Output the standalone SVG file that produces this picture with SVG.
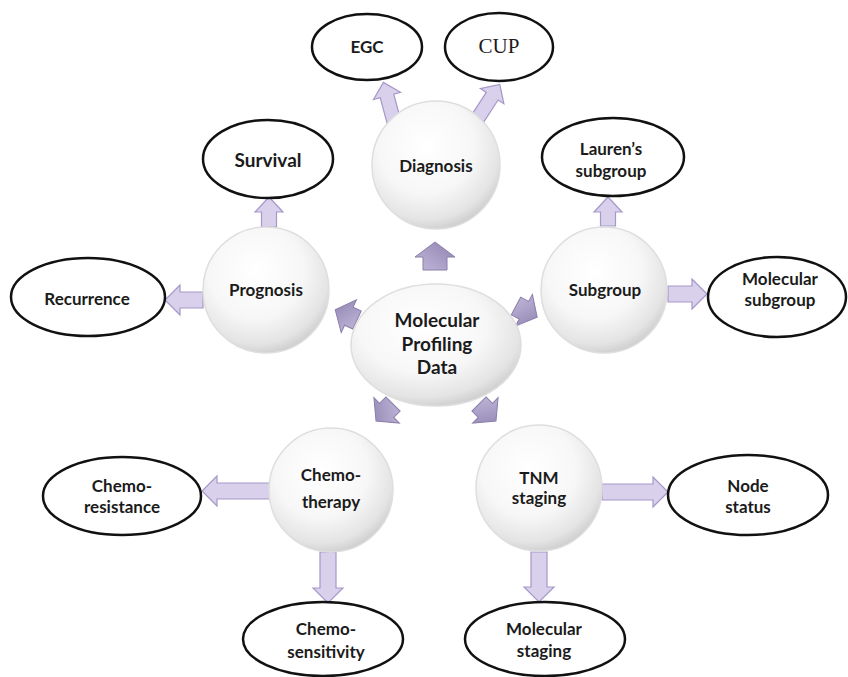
<svg xmlns="http://www.w3.org/2000/svg" width="848" height="677" viewBox="0 0 848 677">
<defs>
<radialGradient id="sphere" cx="0.42" cy="0.35" r="0.68">
<stop offset="0" stop-color="#ffffff"/>
<stop offset="0.55" stop-color="#f7f7f7"/>
<stop offset="0.85" stop-color="#e4e4e4"/>
<stop offset="1" stop-color="#cbcbcb"/>
</radialGradient>
<linearGradient id="small" x1="0" y1="0" x2="1" y2="1">
<stop offset="0" stop-color="#c2b8da"/>
<stop offset="1" stop-color="#8f83b0"/>
</linearGradient>
<style>
.sph{fill:url(#sphere);stroke:#dedede;stroke-width:1.5}
.ell{fill:#ffffff;stroke:#111111;stroke-width:2.5}
.t{font-family:Lato,"Open Sans","Liberation Sans",sans-serif;font-weight:bold;fill:#1b1b1b;text-anchor:middle}
.s17{font-size:17px}
.s19{font-size:19px}
.serif{font-family:"Liberation Serif","DejaVu Serif",serif;font-weight:normal;font-size:21px;fill:#1b1b1b;text-anchor:middle}
.big{fill:#d9d0ec;stroke:#a598c8;stroke-width:1.2}
.sm{fill:url(#small);stroke:#8a7eaa;stroke-width:1}
</style>
</defs>
<rect x="0" y="0" width="848" height="677" fill="#ffffff"/>

<g id="connectors">
<path class="big" transform="translate(394,122) rotate(-105)" d="M0,-7 L27,-7 L27,-14 L41,0 L27,14 L27,7 L0,7 Z"/>
<path class="big" transform="translate(478,118) rotate(-57)" d="M0,-7 L26,-7 L26,-14 L40,0 L26,14 L26,7 L0,7 Z"/>
<path class="big" transform="translate(269,227) rotate(-90)" d="M0,-7.5 L15,-7.5 L15,-14 L30,0 L15,14 L15,7.5 L0,7.5 Z"/>
<path class="big" transform="translate(608,226) rotate(-90)" d="M0,-7.5 L14,-7.5 L14,-14 L29,0 L14,14 L14,7.5 L0,7.5 Z"/>
<path class="big" transform="translate(203,300) rotate(180)" d="M0,-8 L23,-8 L23,-15 L38,0 L23,15 L23,8 L0,8 Z"/>
<path class="big" transform="translate(668,294)" d="M0,-8 L24,-8 L24,-15 L39,0 L24,15 L24,8 L0,8 Z"/>
<path class="big" transform="translate(270,491) rotate(180)" d="M0,-8 L53,-8 L53,-15 L68,0 L53,15 L53,8 L0,8 Z"/>
<path class="big" transform="translate(602,492)" d="M0,-8 L51,-8 L51,-15 L66,0 L51,15 L51,8 L0,8 Z"/>
<path class="big" transform="translate(328,552) rotate(90)" d="M0,-8 L36,-8 L36,-15 L51,0 L36,15 L36,8 L0,8 Z"/>
<path class="big" transform="translate(539,552) rotate(90)" d="M0,-8 L35,-8 L35,-15 L50,0 L35,15 L35,8 L0,8 Z"/>
<path class="sm" transform="translate(435,270) rotate(-90)" d="M0,-12 L13,-12 L13,-20 L28,0 L13,20 L13,12 L0,12 Z"/>
<path class="sm" transform="translate(357,320) rotate(205)" d="M0,-10 L9,-10 L9,-18 L24,0 L9,18 L9,10 L0,10 Z"/>
<path class="sm" transform="translate(516,306) rotate(28)" d="M0,-10 L9,-10 L9,-18 L24,0 L9,18 L9,10 L0,10 Z"/>
<path class="sm" transform="translate(393,404) rotate(135)" d="M0,-10 L9,-10 L9,-18 L24,0 L9,18 L9,10 L0,10 Z"/>
<path class="sm" transform="translate(479,404) rotate(45)" d="M0,-10 L9,-10 L9,-18 L24,0 L9,18 L9,10 L0,10 Z"/>
</g>

<g id="center">
<ellipse class="sph" cx="436" cy="345" rx="85" ry="61"/>
<text class="t s19" x="437" y="327">Molecular</text>
<text class="t s19" x="437" y="351">Profiling</text>
<text class="t s19" x="437" y="374">Data</text>
</g>

<g id="diagnosis">
<circle class="sph" cx="436" cy="165" r="64"/>
<text class="t s17" x="436" y="172">Diagnosis</text>
</g>
<g id="prognosis">
<circle class="sph" cx="266" cy="290" r="63"/>
<text class="t s17" x="266" y="296">Prognosis</text>
</g>
<g id="subgroup">
<circle class="sph" cx="604" cy="290" r="63"/>
<text class="t s17" x="605" y="296">Subgroup</text>
</g>
<g id="chemotherapy">
<circle class="sph" cx="331" cy="490" r="62"/>
<text class="t s17" x="331" y="481">Chemo-</text>
<text class="t s17" x="331" y="508">therapy</text>
</g>
<g id="tnm">
<circle class="sph" cx="539" cy="488" r="63"/>
<text class="t s17" x="539" y="484">TNM</text>
<text class="t s17" x="539" y="504">staging</text>
</g>

<g id="egc">
<ellipse class="ell" cx="367" cy="47" rx="55" ry="33"/>
<text class="t s17" x="367" y="53">EGC</text>
</g>
<g id="cup">
<ellipse class="ell" cx="499" cy="47" rx="54" ry="34"/>
<text class="serif" x="499" y="53">CUP</text>
</g>
<g id="survival">
<ellipse class="ell" cx="268" cy="159" rx="65" ry="39"/>
<text class="t s19" x="268" y="167">Survival</text>
</g>
<g id="laurens">
<ellipse class="ell" cx="613" cy="157" rx="71" ry="39"/>
<text class="t s17" x="611" y="155">Lauren’s</text>
<text class="t s17" x="611" y="177">subgroup</text>
</g>
<g id="recurrence">
<ellipse class="ell" cx="88" cy="297" rx="77" ry="39"/>
<text class="t s17" x="87" y="305">Recurrence</text>
</g>
<g id="molecular-subgroup">
<ellipse class="ell" cx="777" cy="297" rx="69" ry="40"/>
<text class="t s17" x="780" y="285">Molecular</text>
<text class="t s17" x="780" y="306">subgroup</text>
</g>
<g id="chemo-resistance">
<ellipse class="ell" cx="122" cy="496" rx="79" ry="39"/>
<text class="t s17" x="122" y="492">Chemo-</text>
<text class="t s17" x="122" y="513">resistance</text>
</g>
<g id="node-status">
<ellipse class="ell" cx="748" cy="495" rx="80" ry="40"/>
<text class="t s17" x="748" y="492">Node</text>
<text class="t s17" x="748" y="513">status</text>
</g>
<g id="chemo-sensitivity">
<ellipse class="ell" cx="323" cy="639" rx="80" ry="37"/>
<text class="t s17" x="326" y="635">Chemo-</text>
<text class="t s17" x="326" y="658">sensitivity</text>
</g>
<g id="molecular-staging">
<ellipse class="ell" cx="545" cy="639" rx="80" ry="37"/>
<text class="t s17" x="544" y="635">Molecular</text>
<text class="t s17" x="544" y="657">staging</text>
</g>
</svg>
